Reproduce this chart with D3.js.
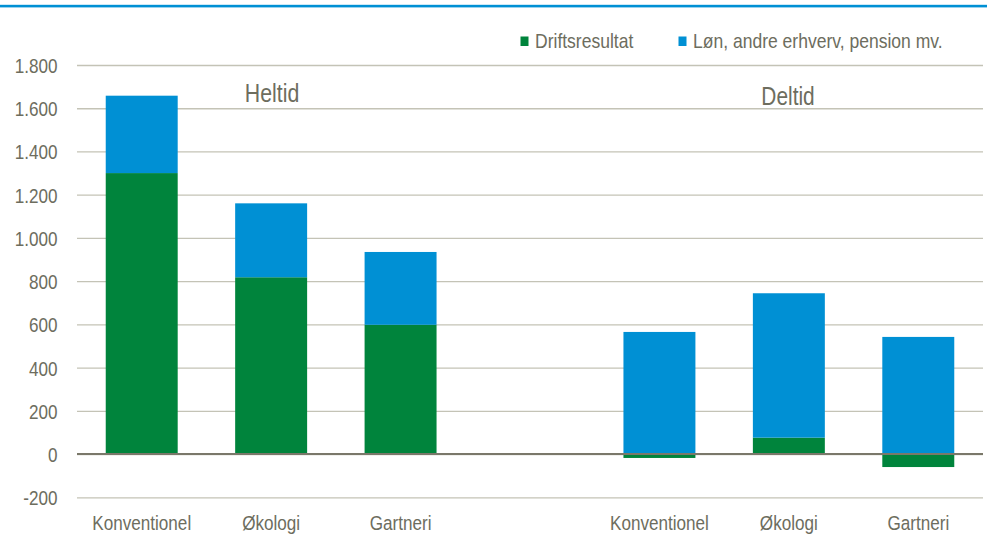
<!DOCTYPE html>
<html>
<head>
<meta charset="utf-8">
<script src="https://cdn.jsdelivr.net/npm/d3@7/dist/d3.min.js"></script>
<style>
  html, body { margin: 0; padding: 0; background: #ffffff; }
  svg { display: block; }
  text { font-family: "Liberation Sans", Arial, sans-serif; fill: #6d6d5e; }
</style>
</head>
<body>
<svg id="chart" width="987" height="538"></svg>
<script>
// Categories on the x axis (an empty slot separates the two groups)
const categories = ["Konventionel", "Økologi", "Gartneri", "", "Konventionel", "Økologi", "Gartneri"];
const groupLabels = ["Heltid", "Deltid"];

// Series values (1.000 kr.)
const driftsresultat = [1300, 818, 598, null, -18, 76, -60];
const loenMv = [358, 342, 337, null, 565, 668, 542];

const seriesNames = ["Driftsresultat", "Løn, andre erhverv, pension mv."];
const yTicks = [-200, 0, 200, 400, 600, 800, 1000, 1200, 1400, 1600, 1800];

const colors = { drift: "#00843c", loen: "#0090d4" };

const W = 987, H = 538;
const plot = { left: 77, right: 983, top: 65, bottom: 497.3 };
const NARROW = 0.835; // horizontal squeeze giving a narrow sans face

// Condense a text element horizontally around its anchor point
function narrow(sel) {
  sel.each(function () {
    const t = d3.select(this);
    const tx = +t.attr("x") || 0;
    const ty = +t.attr("y") || 0;
    t.attr("x", 0).attr("y", 0)
      .attr("transform", `translate(${tx},${ty}) scale(${NARROW},1)`);
  });
}

const svg = d3.select("#chart");

// Blue rule along the top edge
svg.append("rect")
  .attr("x", 0).attr("y", 4.8).attr("width", W).attr("height", 2.6)
  .attr("fill", colors.loen);

const x = d3.scaleBand()
  .domain(d3.range(categories.length))
  .range([plot.left, plot.right])
  .paddingInner(0.444)
  .paddingOuter(0.222);

const y = d3.scaleLinear()
  .domain([-200, 1800])
  .range([plot.bottom, plot.top]);

const locale = d3.formatLocale({ decimal: ",", thousands: ".", grouping: [3], currency: ["", ""], minus: "-" });
const fmt = locale.format(",d");

// Gridlines and y tick labels
const yAxis = d3.axisLeft(y)
  .tickValues(yTicks)
  .tickSize(-(plot.right - plot.left))
  .tickPadding(20)
  .tickFormat(fmt);

const gy = svg.append("g")
  .attr("transform", `translate(${plot.left},0)`)
  .call(yAxis);
gy.select(".domain").remove();
gy.selectAll(".tick line")
  .attr("stroke", "#c4c3b6")
  .attr("stroke-width", 1.3);
gy.selectAll(".tick text")
  .attr("x", 57.5 - plot.left)
  .attr("dy", "0.36em")
  .style("font-size", "20.5px")
  .style("fill", "#6d6d5e")
  .call(narrow);

// Stacked bars: negative operating results are drawn below zero
const rows = categories.map((c, i) => ({ i, drift: driftsresultat[i], loen: loenMv[i] }))
  .filter(d => d.drift !== null);

const stack = d3.stack()
  .keys(["drift", "loen"])
  .offset(d3.stackOffsetDiverging);
const layers = stack(rows);

svg.append("g").selectAll("g")
  .data(layers)
  .join("g")
  .attr("fill", d => colors[d.key])
  .selectAll("rect")
  .data(d => d)
  .join("rect")
  .attr("x", d => x(d.data.i))
  .attr("width", x.bandwidth())
  .attr("y", d => y(Math.max(d[0], d[1])))
  .attr("height", d => Math.abs(y(d[0]) - y(d[1])));

// Zero line
svg.append("line")
  .attr("x1", plot.left).attr("x2", plot.right)
  .attr("y1", y(0)).attr("y2", y(0))
  .attr("stroke", "#7a786a")
  .attr("stroke-width", 2);

// Category labels
svg.append("g").selectAll("text")
  .data(categories.map((c, i) => ({ c, i })).filter(d => d.c !== ""))
  .join("text")
  .attr("x", d => x(d.i) + x.bandwidth() / 2)
  .attr("y", 530)
  .attr("text-anchor", "middle")
  .style("font-size", "20.5px")
  .text(d => d.c)
  .call(narrow);

// Group labels
svg.append("text")
  .attr("x", 272).attr("y", 102)
  .attr("text-anchor", "middle")
  .style("font-size", "25.5px")
  .text(groupLabels[0])
  .call(narrow);
svg.append("text")
  .attr("x", 788).attr("y", 104.5)
  .attr("text-anchor", "middle")
  .style("font-size", "25px")
  .text(groupLabels[1])
  .call(narrow);

// Legend
const legendItems = [
  { name: seriesNames[0], color: colors.drift, x: 520.5 },
  { name: seriesNames[1], color: colors.loen, x: 678.5 }
];
const lg = svg.append("g").selectAll("g")
  .data(legendItems)
  .join("g")
  .attr("transform", d => `translate(${d.x},0)`);
lg.append("rect")
  .attr("x", 0).attr("y", 36.5)
  .attr("width", 8).attr("height", 9.5)
  .attr("fill", d => d.color);
lg.append("text")
  .attr("x", 14.5).attr("y", 48)
  .style("font-size", "21px")
  .text(d => d.name)
  .call(narrow);
</script>
</body>
</html>
